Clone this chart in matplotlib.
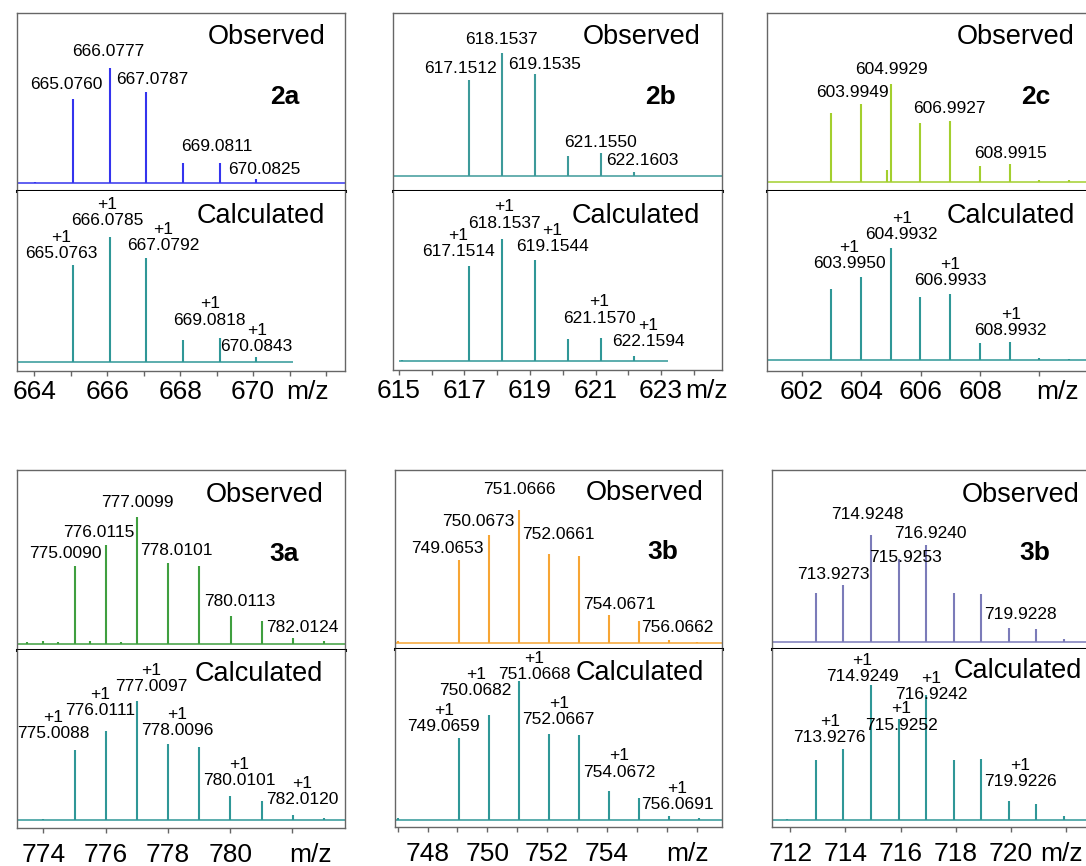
import matplotlib
matplotlib.use('Agg')
import matplotlib.pyplot as plt

plt.rcParams['font.family'] = ['Liberation Sans', 'DejaVu Sans']

# ---- peak lists (m/z, relative intensity) ----
# 2a
obs_2a_mz = [664.02, 665.0760, 666.0777, 667.0787, 668.08, 669.0811, 670.0825]
obs_2a_int = [0.8, 47.0, 64.4, 51.0, 11.2, 11.2, 2.2]
obs_2a_lab = [1, 2, 3, 5, 6]
calc_2a_mz = [665.0763, 666.0785, 667.0792, 668.08, 669.0818, 670.0843]
calc_2a_int = [54.3, 70.0, 58.2, 12.3, 13.4, 2.8]
calc_2a_lab = [0, 1, 2, 4, 5]

# 2b
obs_2b_mz = [617.1512, 618.1537, 619.1535, 620.15, 621.1550, 622.1603]
obs_2b_int = [53.8, 68.7, 57.1, 11.4, 12.7, 2.4]
obs_2b_lab = [0, 1, 2, 4, 5]
calc_2b_mz = [615.08, 617.1514, 618.1537, 619.1544, 620.16, 621.1570, 622.1594]
calc_2b_int = [0.6, 53.2, 68.2, 56.4, 12.0, 12.9, 2.6]
calc_2b_lab = [1, 2, 3, 5, 6]

# 2c
obs_2c_mz = [602.99, 603.9949, 604.86, 604.9929, 605.99, 606.9927, 607.99, 608.9915, 609.98, 611.0]
obs_2c_int = [38.3, 43.3, 6.5, 54.7, 32.7, 34.2, 9.0, 9.7, 1.1, 0.8]
obs_2c_lab = [1, 3, 5, 7]
calc_2c_mz = [602.99, 603.9950, 604.9932, 605.99, 606.9933, 607.99, 608.9932, 609.99, 611.0]
calc_2c_int = [39.6, 46.6, 62.9, 35.4, 36.8, 9.4, 9.9, 1.3, 0.5]
calc_2c_lab = [1, 2, 4, 6]

# 3a
obs_3a_mz = [773.47, 774.0, 774.48, 775.0090, 775.5, 776.0115, 776.49, 777.0099,
             778.0101, 779.01, 780.0113, 781.01, 782.0124, 783.02]
obs_3a_int = [0.8, 1.7, 0.8, 43.7, 1.4, 55.3, 0.8, 70.9, 45.2, 43.7, 15.7, 12.9, 3.2, 1.5]
obs_3a_lab = [3, 5, 7, 8, 10, 12]
calc_3a_mz = [774.0, 775.0088, 776.0111, 777.0097, 778.0096, 779.01, 780.0101, 781.01, 782.0120, 783.01]
calc_3a_int = [0.5, 39.2, 49.8, 66.6, 42.4, 40.7, 13.6, 10.8, 2.8, 1.3]
calc_3a_lab = [1, 2, 3, 4, 6, 8]

# 3b (Br)
obs_3b_mz = [747.02, 749.0653, 750.0673, 751.0666, 752.0661, 753.07, 754.0671, 755.07, 756.0662, 757.0]
obs_3b_int = [1.0, 46.3, 60.6, 74.6, 49.8, 48.9, 15.5, 12.1, 1.8, 0.7]
obs_3b_lab = [1, 2, 3, 4, 6, 8]
calc_3b_mz = [747.02, 749.0659, 750.0682, 751.0668, 752.0667, 753.07, 754.0672, 755.07, 756.0691, 757.07]
calc_3b_int = [1.0, 45.7, 58.8, 78.0, 48.2, 47.6, 16.4, 12.5, 2.2, 1.0]
calc_3b_lab = [1, 2, 3, 4, 6, 8]

# 3b (Cl)
obs_3c_mz = [712.93, 713.9273, 714.9248, 715.9253, 716.9240, 717.92, 718.92, 719.9228, 720.92, 721.92]
obs_3c_int = [27.1, 31.8, 59.8, 46.1, 54.2, 27.1, 26.5, 7.8, 6.9, 1.3]
obs_3c_lab = [1, 2, 3, 4, 7]
calc_3c_mz = [711.9, 712.93, 713.9276, 714.9249, 715.9252, 716.9242, 717.92, 718.92, 719.9226, 720.92, 721.92]
calc_3c_int = [0.8, 34.0, 39.8, 75.6, 56.9, 70.0, 33.6, 34.5, 10.6, 9.3, 2.4]
calc_3c_lab = [2, 3, 4, 5, 8]

CALC_COLOR = '#2f9797'
LABEL_SIZE = 12.5
TITLE_SIZE = 19.5
TICK_SIZE = 19

# ---- panel layout (pixel boxes: left, top, right, divider, bottom) ----
panels = [
    dict(tag='2a', box=(17, 13, 345, 191, 371), xlim=(663.53, 672.52),
         ticks=range(664, 673), tlabels=(664, 666, 668, 670), mzpos=671.5, pad=3,
         obs=(obs_2a_mz, obs_2a_int, obs_2a_lab), calc=(calc_2a_mz, calc_2a_int, calc_2a_lab),
         ocolor='#3434ee', oylim=(-4.5, 95.2), cylim=(-5.0, 95.8), cspan=(663.53, 671.1),
         opos=[(664.88, 54.9), (666.03, 73.4), (667.23, 58.2), (669.01, 20.2), (670.30, 7.8)],
         cpos=[(664.74, 65.5), (666.01, 83.7), (667.53, 69.7), (668.81, 28.0), (670.10, 13.4)],
         otxt=(0.94, 0.865), tagxy=(0.86, 0.528), ctxt=(0.939, 0.861)),
    dict(tag='2b', box=(393, 13, 722, 191, 370), xlim=(614.82, 624.86),
         ticks=range(615, 625), tlabels=(615, 617, 619, 621, 623), mzpos=624.4, pad=3,
         obs=(obs_2b_mz, obs_2b_int, obs_2b_lab), calc=(calc_2b_mz, calc_2b_int, calc_2b_lab),
         ocolor='#3d9a9a', oylim=(-8.4, 91.3), cylim=(-5.2, 95.0), cspan=(615.0, 623.2),
         opos=[(616.89, 60.3), (618.14, 76.7), (619.46, 62.5), (621.15, 18.7), (622.43, 8.6)],
         cpos=[(616.82, 65.7), (618.21, 81.6), (619.68, 68.3), (621.12, 28.4), (622.62, 15.3)],
         otxt=(0.935, 0.867), tagxy=(0.86, 0.53), ctxt=(0.933, 0.86)),
    dict(tag='2c', box=(767, 13, 1100, 191, 371), xlim=(600.82, 612.04),
         ticks=range(602, 612, 2), tlabels=(602, 604, 606, 608), mzpos=610.6, pad=3,
         obs=(obs_2c_mz, obs_2c_int, obs_2c_lab), calc=(calc_2c_mz, calc_2c_int, calc_2c_lab),
         ocolor='#a3cf2e', oylim=(-5.2, 94.5), cylim=(-6.2, 94.6), cspan=None,
         opos=[(603.69, 50.1), (605.00, 62.6), (606.98, 41.1), (609.02, 15.9)],
         cpos=[(603.60, 58.4), (605.36, 74.8), (607.0, 48.8), (609.03, 21.0)],
         otxt=(0.925, 0.867), tagxy=(0.85, 0.53), ctxt=(0.925, 0.861)),
    dict(tag='3a', box=(17, 470, 345, 650, 828), xlim=(773.15, 783.69),
         ticks=range(774, 784, 2), tlabels=(774, 776, 778, 780), mzpos=782.58, pad=7,
         obs=(obs_3a_mz, obs_3a_int, obs_3a_lab), calc=(calc_3a_mz, calc_3a_int, calc_3a_lab),
         ocolor='#3f9f3f', oylim=(-3.4, 97.4), cylim=(-4.5, 95.2), cspan=None,
         opos=[(774.71, 50.8), (775.77, 62.3), (777.03, 79.3), (778.27, 52.3), (780.32, 23.7), (782.33, 9.3)],
         cpos=[(774.32, 52.7), (775.82, 65.6), (777.45, 79.3), (778.31, 54.8), (780.30, 26.5), (782.32, 16.1)],
         otxt=(0.936, 0.861), tagxy=(0.858, 0.532), ctxt=(0.934, 0.863)),
    dict(tag='3b', box=(395, 470, 722, 649, 827), xlim=(746.91, 757.85),
         ticks=range(747, 758), tlabels=(748, 750, 752, 754), mzpos=756.71, pad=7,
         obs=(obs_3b_mz, obs_3b_int, obs_3b_lab), calc=(calc_3b_mz, calc_3b_int, calc_3b_lab),
         ocolor='#f7a534', oylim=(-3.4, 96.9), cylim=(-3.75, 95.6), cspan=None,
         opos=[(748.66, 52.8), (749.71, 68.1), (751.08, 85.8), (752.36, 60.6), (754.40, 21.8), (756.35, 8.8)],
         cpos=[(748.54, 56.7), (749.61, 76.7), (751.58, 85.8), (752.39, 60.5), (754.40, 31.4), (756.36, 13.3)],
         otxt=(0.943, 0.871), tagxy=(0.866, 0.54), ctxt=(0.945, 0.865)),
    dict(tag='3b', box=(772, 470, 1100, 649, 827), xlim=(711.34, 723.22),
         ticks=range(712, 724, 2), tlabels=(712, 714, 716, 718, 720), mzpos=721.84, pad=7,
         obs=(obs_3c_mz, obs_3c_int, obs_3c_lab), calc=(calc_3c_mz, calc_3c_int, calc_3c_lab),
         ocolor='#7b7bb9', oylim=(-4.1, 96.2), cylim=(-3.75, 95.8), cspan=None,
         opos=[(713.55, 37.9), (714.81, 71.5), (716.18, 47.3), (717.07, 60.7), (720.35, 15.0)],
         cpos=[(713.43, 51.0), (714.60, 85.1), (716.02, 57.8), (717.10, 74.8), (720.34, 26.3)],
         otxt=(0.939, 0.86), tagxy=(0.848, 0.535), ctxt=(0.945, 0.877)),
]

W, H = 1086, 866
fig = plt.figure(figsize=(W / 100, H / 100), dpi=100)


def box(l, t, r, b):
    return [l / W, 1 - b / H, (r - l) / W, (b - t) / H]


def draw_spectrum(ax, mz, inten, color, span):
    ax.plot(span, [0, 0], color=color, lw=1.1, solid_capstyle='butt')
    ax.vlines(mz, 0, inten, color=color, lw=1.5)


def frame(ax):
    ax.set_yticks([])
    for s in ax.spines.values():
        s.set_color('#666666')
        s.set_linewidth(1.0)


for p in panels:
    l, t, r, d, b = p['box']
    ax_o = fig.add_axes(box(l, t, r, d))
    ax_c = fig.add_axes(box(l, d, r, b))
    for ax in (ax_o, ax_c):
        frame(ax)
        ax.set_xlim(*p['xlim'])
    ax_o.set_ylim(*p['oylim'])
    ax_c.set_ylim(*p['cylim'])

    # observed spectrum
    mz, inten, lab = p['obs']
    draw_spectrum(ax_o, mz, inten, p['ocolor'], p['xlim'])
    for i, (x, y) in zip(lab, p['opos']):
        ax_o.text(x, y, f'{mz[i]:.4f}', fontsize=LABEL_SIZE, ha='center', va='center')

    # calculated spectrum, each label carries the charge state above it
    mz, inten, lab = p['calc']
    span = p['cspan'] if p['cspan'] else p['xlim']
    draw_spectrum(ax_c, mz, inten, CALC_COLOR, span)
    for i, (x, y) in zip(lab, p['cpos']):
        ax_c.text(x, y, f'+1\n{mz[i]:.4f}', fontsize=LABEL_SIZE, ha='center', va='center',
                  linespacing=1.1)

    ax_o.text(*p['otxt'], 'Observed', transform=ax_o.transAxes, fontsize=TITLE_SIZE,
              ha='right', va='center')
    ax_o.text(*p['tagxy'], p['tag'], transform=ax_o.transAxes, fontsize=19,
              fontweight='bold', ha='right', va='center')
    ax_c.text(*p['ctxt'], 'Calculated', transform=ax_c.transAxes, fontsize=TITLE_SIZE,
              ha='right', va='center')

    # divider between the two traces
    ax_o.set_xticks([])
    ax_o.spines['bottom'].set_color('black')
    ax_o.spines['bottom'].set_linewidth(2.2)
    ax_c.spines['top'].set_visible(False)

    ticks = list(p['ticks'])
    ax_c.set_xticks(ticks)
    ax_c.set_xticklabels([str(v) if v in p['tlabels'] else '' for v in ticks])
    ax_c.tick_params(axis='x', direction='out', length=3.5, width=1, color='#666666',
                     labelsize=TICK_SIZE, pad=p['pad'])
    ax_c.annotate('m/z', xy=(p['mzpos'], 0), xycoords=('data', 'axes fraction'),
                  xytext=(0, -(3.5 + p['pad'])), textcoords='offset points',
                  fontsize=TICK_SIZE, ha='center', va='top', annotation_clip=False)

fig.savefig('out.png', dpi=100)
